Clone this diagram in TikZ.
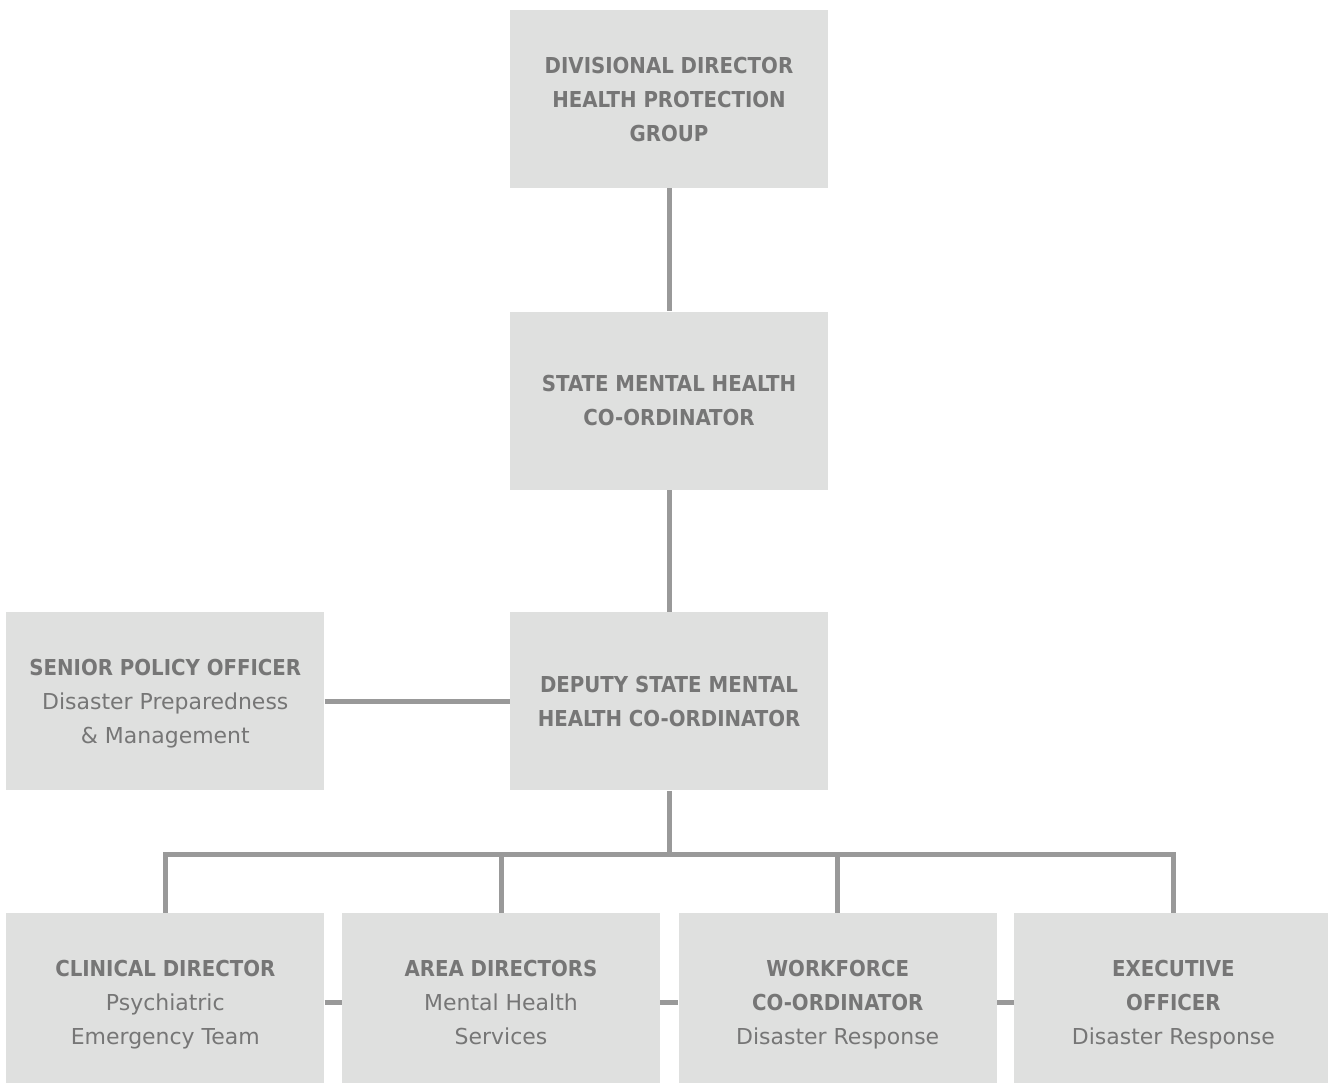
\documentclass[tikz,border=0pt]{standalone}
\usepackage{fontspec}
\setmainfont{DejaVu Sans}[BoldFont={DejaVu Sans Condensed Bold}]
\usetikzlibrary{positioning}
\definecolor{boxgrey}{HTML}{DFE0DF}
\definecolor{linegrey}{HTML}{999999}
\definecolor{textgrey}{HTML}{767676}

\begin{document}
\begin{tikzpicture}[
    unit/.style={fill=boxgrey, text=textgrey, minimum width=6.36cm, minimum height=3.56cm, align=center, inner sep=0pt,
        font=\fontsize{12.5}{19.4}\selectfont, text depth=-0.8pt},
    link/.style={draw=linegrey, line width=0.1cm}
]
    \useasboundingbox (0,0) rectangle (26.56,-21.66);
    \node[unit] (divdir) at (13.38,-1.98) {\textbf{DIVISIONAL DIRECTOR}\\\textbf{HEALTH PROTECTION}\\\textbf{GROUP}};
    \node[unit, below=2.46cm of divdir] (smhc) {\textbf{STATE MENTAL HEALTH}\\\textbf{CO-ORDINATOR}};
    \node[unit, below=2.44cm of smhc] (deputy) {\textbf{DEPUTY STATE MENTAL}\\\textbf{HEALTH CO-ORDINATOR}};
    \node[unit, left=3.70cm of deputy] (policy) {\textbf{SENIOR POLICY OFFICER}\\Disaster Preparedness\\\& Management};
    \node[unit, below=2.44cm of policy] (clin) {\textbf{CLINICAL DIRECTOR}\\Psychiatric\\Emergency Team};
    \node[unit, right=0.34cm of clin] (area) {\textbf{AREA DIRECTORS}\\Mental Health\\Services};
    \node[unit, right=0.36cm of area] (work) {\textbf{WORKFORCE}\\\textbf{CO-ORDINATOR}\\Disaster Response};
    \node[unit, right=0.34cm of work] (exec) {\textbf{EXECUTIVE}\\\textbf{OFFICER}\\Disaster Response};
    % reporting lines
    \draw[link] (divdir) -- (smhc);
    \draw[link] (smhc) -- (deputy);
    \draw[link] (policy) -- (deputy);
    \draw[link] (deputy.south) -- ++(0,-1.28) coordinate (bar);
    \draw[link] (clin.north) |- (bar) -| (exec.north);
    \draw[link] (area.north) |- (bar);
    \draw[link] (work.north) |- (bar);
    \draw[link] (clin) -- (area);
    \draw[link] (area) -- (work);
    \draw[link] (work) -- (exec);
\end{tikzpicture}
\end{document}
